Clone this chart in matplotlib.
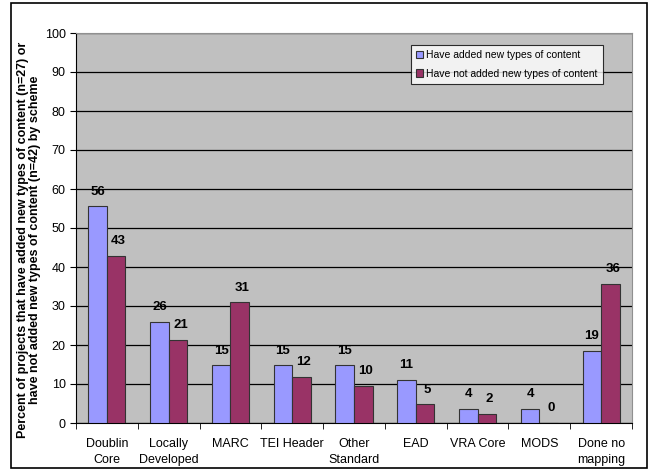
import numpy as np
import matplotlib.pyplot as plt
from matplotlib.patches import Rectangle

plt.rcParams['font.family'] = ['Liberation Sans', 'DejaVu Sans']

# categories and values (percent of projects)
categories = ["Doublin\nCore", "Locally\nDeveloped", "MARC", "TEI Header", "Other\nStandard",
              "EAD", "VRA Core", "MODS", "Done no\nmapping"]
added = [55.6, 25.9, 14.8, 14.8, 14.8, 11.1, 3.7, 3.7, 18.5]
not_added = [42.9, 21.4, 31.0, 11.9, 9.5, 4.8, 2.4, 0.0, 35.7]
labels_added = ["56", "26", "15", "15", "15", "11", "4", "4", "19"]
labels_not_added = ["43", "21", "31", "12", "10", "5", "2", "0", "36"]

fig = plt.figure(figsize=(6.53, 4.69), dpi=100)
# black frame around the whole chart
fig.patches.append(Rectangle((11/653, 0.002), (647-11)/653, 1 - 3/469 - 0.002, transform=fig.transFigure,
                             fill=False, edgecolor='black', linewidth=1.2))
ax = fig.add_axes([76/653, 1 - 423/469, (632-76)/653, (423-33)/469])
ax.set_facecolor('#C0C0C0')

x = np.arange(len(categories))
w = 0.3
ax.bar(x - w/2, added, w, color='#9999FF', edgecolor='#333333', linewidth=0.8,
       label="Have added new types of content", zorder=3)
ax.bar(x + w/2, not_added, w, color='#993366', edgecolor='#333333', linewidth=0.8,
       label="Have not added new types of content", zorder=3)

for i in range(len(categories)):
    ax.text(x[i] - w/2, added[i] + 2.2, labels_added[i], ha='center', va='bottom',
            fontsize=9.5, fontweight='bold', zorder=4)
    ax.text(x[i] + w/2 + 0.04, not_added[i] + 2.2, labels_not_added[i], ha='center', va='bottom',
            fontsize=9.5, fontweight='bold', zorder=4)

ax.set_xlim(-0.5, len(categories) - 0.5)
ax.set_ylim(0, 100)
ax.set_yticks(range(0, 101, 10))
ax.yaxis.grid(True, color='black', linewidth=0.9, zorder=1)
ax.set_axisbelow(True)

ax.set_xticks(x)
ax.set_xticklabels(categories, fontsize=9, linespacing=1.45)
ax.set_xticks(np.arange(-0.5, len(categories), 1), minor=True)
ax.tick_params(axis='x', which='major', length=0, pad=11)
ax.tick_params(axis='x', which='minor', length=4, direction='out')
ax.tick_params(axis='y', length=4, direction='out', labelsize=9)

for side in ['top', 'right']:
    ax.spines[side].set_color('#909090')
ax.spines['left'].set_color('black')
ax.spines['bottom'].set_color('black')

fig.text(29/653, 1 - 240/469,
         "Percent of projects that have added new types of content (n=27) or\n"
         "have not added new types of content (n=42) by scheme",
         rotation=90, ha='center', va='center', multialignment='center',
         fontsize=9, fontweight='bold', linespacing=1.1)

leg = ax.legend(loc='upper right', fontsize=7.5, frameon=True, fancybox=False,
                handlelength=0.7, handleheight=0.7, handletextpad=0.3, borderpad=0.5,
                labelspacing=0.8, borderaxespad=0)
leg.set_bbox_to_anchor((603/653, 1 - 45/469), transform=fig.transFigure)
leg.get_frame().set_edgecolor('black')
leg.get_frame().set_linewidth(0.8)

plt.savefig("out.png", dpi=100)
